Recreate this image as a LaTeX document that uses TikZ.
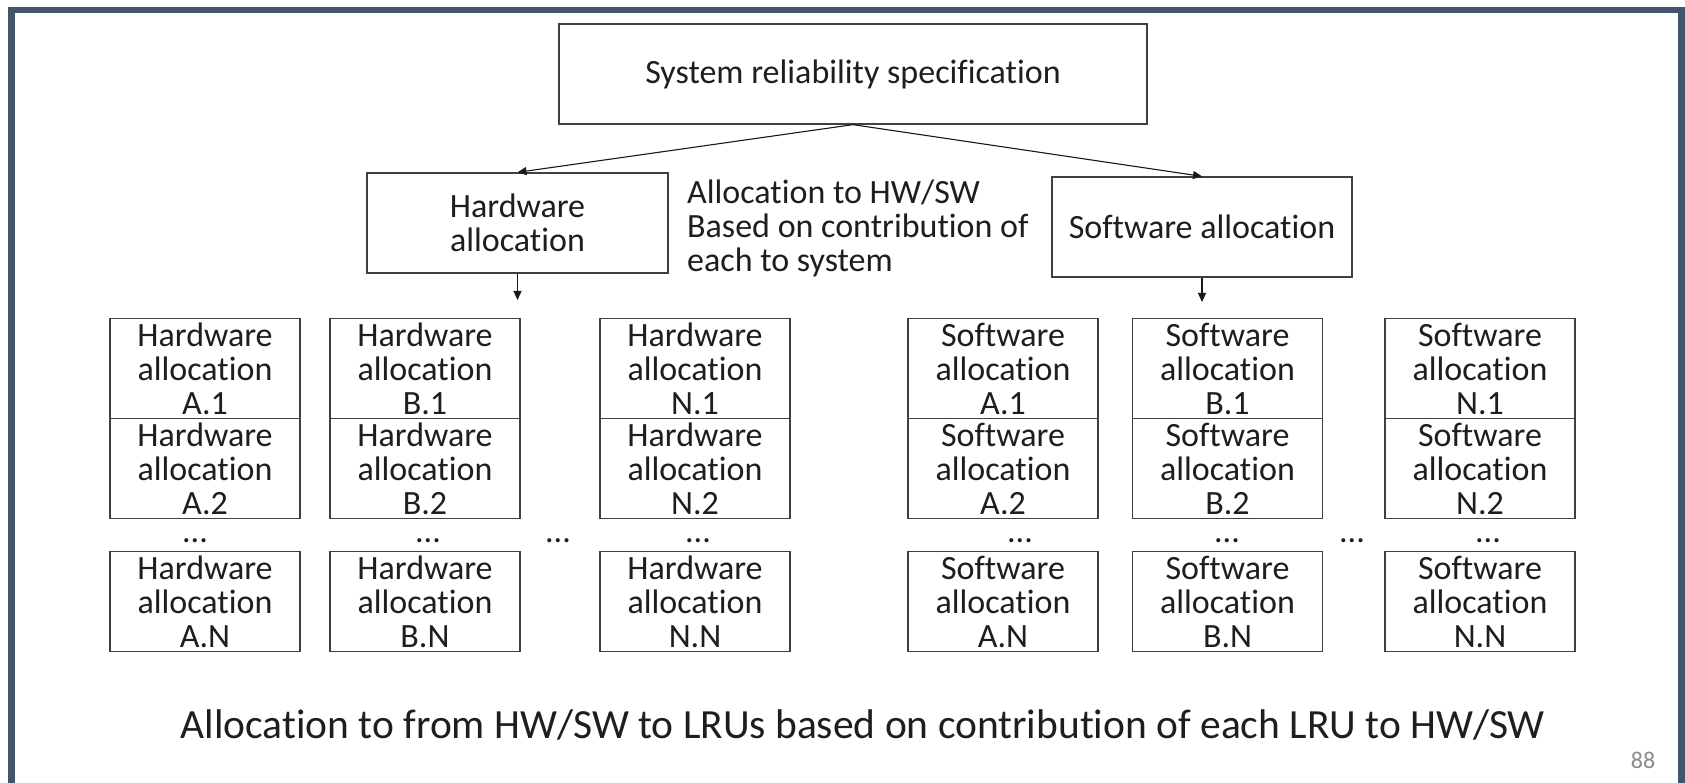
\documentclass[tikz,border=0pt]{standalone}
\usepackage{fontspec}
\setmainfont{Carlito}[Ligatures=NoCommon]
\usetikzlibrary{arrows.meta}
\definecolor{framecol}{HTML}{44546A}
\definecolor{inkcol}{HTML}{1E1E1E}
\definecolor{pagenum}{HTML}{8A8A8A}
\begin{document}
\begin{tikzpicture}[x=1pt,y=-1pt,
  box/.style={draw=black!75, line width=1.3pt, inner sep=0pt, align=center,
    font=\fontsize{34}{34}\selectfont, text=inkcol},
  cellbox/.style={box, minimum width=190pt, minimum height=100pt},
  note/.style={inner sep=0pt, align=left, font=\fontsize{34}{34}\selectfont, text=inkcol},
  dots/.style={inner sep=0pt, anchor=base, font=\fontsize{34}{34}\selectfont, text=inkcol},
  arr/.style={-{Triangle[length=9pt,width=8pt]}, line width=1.1pt, draw=black!90}]
\useasboundingbox (0,0) rectangle (1685,783);
% slide background and frame
\fill[white] (0,0) rectangle (1685,783);
\fill[framecol] (8,7) rectangle (1685,783);
\fill[white] (14.5,13) rectangle (1678,783);

% top level
\node[box, minimum width=588pt, minimum height=100pt] (spec) at (853,74) {System reliability specification};
\node[box, minimum width=301pt, minimum height=100pt] (hw) at (517.5,223) {Hardware\\allocation};
\node[box, minimum width=300pt, minimum height=100pt] (sw) at (1202,227) {Software allocation};
\node[note, anchor=west] (why) at (687,228) {Allocation to HW/SW\\Based on contribution of\\each to system};

\draw[arr] (spec.south) -- (hw.north);
\draw[arr] (spec.south) -- (sw.north);
\coordinate (hwend) at (517.5,300);
\coordinate (swend) at (1202,302);
\draw[arr] (hw.south) -- (hwend);
\draw[arr] (sw.south) -- (swend);

% LRU allocation columns
\foreach \cx/\nm/\kind/\lbl in {205/hA/Hardware/A, 425/hB/Hardware/B, 695/hN/Hardware/N,
                                1003/sA/Software/A, 1227.5/sB/Software/B, 1480/sN/Software/N} {
  \node[cellbox] (\nm1) at (\cx,368.5) {\kind\\allocation\\\lbl.1};
  \node[cellbox] (\nm2) at (\cx,468.5) {\kind\\allocation\\\lbl.2};
  \node[cellbox] (\nm3) at (\cx,601.5) {\kind\\allocation\\\lbl.N};
}

% ellipses
\foreach \dx/\nm in {195/dhA, 428/dhB, 558/dhgap, 698/dhN, 1020/dsA, 1227/dsB, 1352/dsgap, 1488/dsN} {
  \node[dots] (\nm) at (\dx,542) {...};
}

\node[inner sep=0pt, font=\fontsize{41.5}{41.5}\selectfont, text=inkcol] (caption) at (863,725)
  {Allocation to from HW/SW to LRUs based on contribution of each LRU to HW/SW};
\node[inner sep=0pt, font=\fontsize{24}{24}\selectfont, text=pagenum] (pg) at (1643,760) {88};
\end{tikzpicture}
\end{document}
